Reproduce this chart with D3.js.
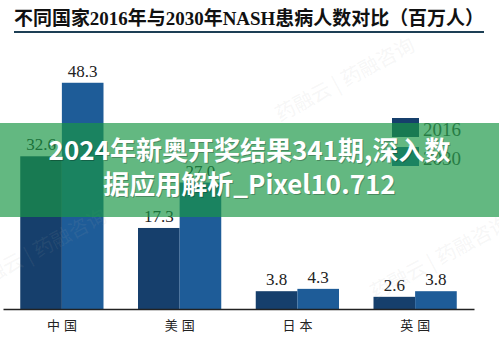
<!DOCTYPE html>
<html>
<head>
<meta charset="utf-8">
<script src="https://cdn.jsdelivr.net/npm/d3@7/dist/d3.min.js"></script>
<style>
  html, body { margin: 0; padding: 0; background: #fff; }
  svg { display: block; }
</style>
</head>
<body>
<svg id="chart" width="499" height="340"></svg>
<script>
const title = "不同国家2016年与2030年NASH患病人数对比（百万人）";
const categories = ["中国", "美国", "日本", "英国"];
const seriesNames = ["2016", "2030"];
const values2016 = [32.6, 17.3, 3.8, 2.6];
const values2030 = [48.3, 27.0, 4.3, 3.8];
const bannerLines = ["2024年新奥开奖结果341期,深入数", "据应用解析_Pixel10.712"];
const watermarkText = "药融云 | 药融咨询";

const colors = { "2016": "#163f6c", "2030": "#1e5c98" };
const serif = "'Liberation Serif', 'DejaVu Serif', 'Noto Sans CJK SC', serif";
const cjk = "'Noto Sans CJK SC', 'Noto Sans', sans-serif";

const svg = d3.select("#chart");

// Title
svg.append("text")
  .attr("x", 14).attr("y", 25)
  .attr("font-family", serif)
  .attr("font-weight", "bold")
  .attr("font-size", 19)
  .attr("fill", "#111")
  .attr("textLength", 470)
  .attr("lengthAdjust", "spacingAndGlyphs")
  .text(title);
svg.append("line")
  .attr("x1", 14).attr("x2", 484)
  .attr("y1", 32).attr("y2", 32)
  .attr("stroke", "#1d3f55").attr("stroke-width", 1.8);

// Scales
const x = d3.scaleBand().domain(categories).range([3, 474])
  .paddingInner(0.293).paddingOuter(0.1465);
const xs = d3.scaleBand().domain(seriesNames).range([0, x.bandwidth()]);
const y = d3.scaleLinear().domain([0, 50]).range([309, 74.8]);

const rows = categories.map((c, i) => ({
  cat: c,
  vals: [{ s: "2016", v: values2016[i] }, { s: "2030", v: values2030[i] }]
}));

const groups = svg.append("g").selectAll("g").data(rows).join("g")
  .attr("transform", d => `translate(${x(d.cat)},0)`);

groups.selectAll("rect").data(d => d.vals).join("rect")
  .attr("x", d => xs(d.s))
  .attr("width", xs.bandwidth())
  .attr("y", d => y(d.v))
  .attr("height", d => y(0) - y(d.v))
  .attr("fill", d => colors[d.s]);

groups.selectAll("text.val").data(d => d.vals).join("text")
  .attr("class", "val")
  .attr("x", d => xs(d.s) + xs.bandwidth() / 2)
  .attr("y", d => y(d.v) - 6)
  .attr("text-anchor", "middle")
  .attr("font-family", serif)
  .attr("font-size", 17)
  .attr("fill", "#222")
  .text(d => d.v.toFixed(1));

// Axis
const axis = svg.append("g")
  .attr("transform", `translate(0,${y(0)})`)
  .call(d3.axisBottom(x).tickSize(0).tickSizeOuter(0).tickPadding(12));
axis.select(".domain").attr("stroke", "#222").attr("stroke-width", 1.3);
axis.selectAll(".tick text")
  .attr("font-family", cjk)
  .attr("font-size", 13)
  .attr("letter-spacing", "4px")
  .attr("dx", 2)
  .attr("fill", "#222");

// Legend
const legend = svg.append("g").attr("transform", "translate(392,118)");
seriesNames.forEach((s, i) => {
  legend.append("rect")
    .attr("x", 0).attr("y", i * 29)
    .attr("width", 27).attr("height", 19)
    .attr("fill", colors[s]);
  legend.append("text")
    .attr("x", 31).attr("y", i * 29 + 18)
    .attr("font-family", serif)
    .attr("font-size", 19)
    .attr("fill", "#444")
    .text(s);
});

// Watermarks
const wm = svg.append("g").attr("pointer-events", "none");
const wmPos = [[280, 122], [375, 300], [-28, 293], [-152, 143]];
wmPos.forEach(([wx, wy]) => {
  wm.append("text")
    .attr("transform", `translate(${wx},${wy}) rotate(-28)`)
    .attr("font-family", cjk)
    .attr("font-size", 20)
    .attr("fill", "rgba(170,170,170,0.11)")
    .text(watermarkText);
});

// Banner overlay
svg.append("rect")
  .attr("x", 0).attr("y", 123)
  .attr("width", 499).attr("height", 94)
  .attr("fill", "rgba(25,150,70,0.68)");

const bannerText = svg.append("g")
  .attr("font-family", cjk)
  .attr("font-weight", "bold")
  .attr("font-size", 26)
  .attr("text-anchor", "middle");
bannerLines.forEach((t, i) => {
  bannerText.append("text")
    .attr("x", 250.5).attr("y", 160 + i * 34 + 1)
    .attr("fill", "rgba(0,0,0,0.25)")
    .text(t);
  bannerText.append("text")
    .attr("x", 249.5).attr("y", 160 + i * 34)
    .attr("fill", "#fff")
    .text(t);
});
</script>
</body>
</html>
